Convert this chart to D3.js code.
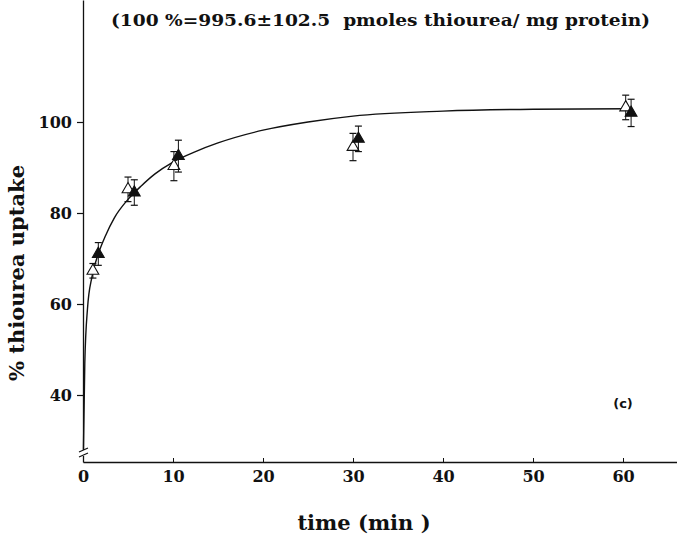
<!DOCTYPE html>
<html>
<head>
<meta charset="utf-8">
<script src="https://cdn.jsdelivr.net/npm/d3@7"></script>
<style>
  body { margin: 0; background: #fff; }
  svg text { fill: #111; white-space: pre; }
</style>
</head>
<body>
<svg id="chart" width="677" height="537"></svg>
<script>
// values
const openTime = [1.1, 5.0, 10.1, 30.0, 60.3];
const openUptake = [67.3, 85.2, 90.3, 94.5, 103.2];
const openErr = [1.6, 2.7, 3.2, 3.0, 2.7];

const filledTime = [1.7, 5.7, 10.6, 30.6, 60.9];
const filledUptake = [71.0, 84.5, 92.5, 96.3, 102.0];
const filledErr = [2.5, 2.8, 3.5, 2.8, 3.0];

// fitted curve, sampled by eye
const fitTime = [0.05, 0.2, 0.5, 1, 1.7, 2.5, 3.5, 5, 6.5, 8, 10, 12.5, 15, 20, 25, 30, 40, 50, 60.5];
const fitUptake = [28, 47, 59, 66, 71, 75, 79, 83, 86, 88.6, 91.2, 93.5, 95.4, 98.2, 100, 101.3, 102.4, 102.8, 102.9];

const xTicks = [0, 10, 20, 30, 40, 50, 60];
const yTicks = [40, 60, 80, 100];

const svg = d3.select("#chart");
const ink = "#111";
const serif = "DejaVu Serif, serif";

const x = d3.scaleLinear().domain([0, 66]).range([83, 677]);
const y = d3.scaleLinear().domain([40, 100]).range([395, 122]);
const yBottom = 462;

// x axis
const xAxis = svg.append("g")
    .attr("transform", `translate(0, ${yBottom})`)
    .call(d3.axisBottom(x).tickValues(xTicks).tickSizeInner(-4).tickSizeOuter(0).tickPadding(9))
xAxis.select(".domain").attr("stroke", ink).attr("stroke-width", 1.3)
xAxis.selectAll(".tick line").attr("stroke", ink)
xAxis.selectAll(".tick text")
    .attr("font-family", serif).attr("font-weight", "bold")
    .attr("font-size", 16).attr("fill", ink)

// y axis, drawn down to the x axis line
const yAxis = svg.append("g")
    .attr("transform", "translate(83, 0)")
    .call(d3.axisLeft(y.copy().domain([y.invert(yBottom), y.invert(0)]).range([yBottom, 0]))
        .tickValues(yTicks).tickSizeInner(6).tickSizeOuter(0).tickPadding(5))
yAxis.select(".domain").attr("stroke", ink).attr("stroke-width", 1.3)
yAxis.selectAll(".tick line").attr("stroke", ink).attr("stroke-width", 1.2)
yAxis.selectAll(".tick text")
    .attr("font-family", serif).attr("font-weight", "bold")
    .attr("font-size", 16).attr("fill", ink)

// axis break marks
svg.append("rect").attr("x", 80).attr("y", 450).attr("width", 6).attr("height", 6).attr("fill", "#fff")
;[450, 455].forEach(function(b) {
    svg.append("line")
        .attr("x1", 79).attr("y1", b + 2).attr("x2", 88).attr("y2", b - 2)
        .attr("stroke", ink).attr("stroke-width", 1.1)
})

// fitted curve
const fit = fitTime.map((t, i) => ({t: t, v: fitUptake[i]}))
const line = d3.line().x(d => x(d.t)).y(d => y(d.v)).curve(d3.curveMonotoneX)
svg.append("path").datum(fit)
    .attr("d", line).attr("fill", "none").attr("stroke", ink).attr("stroke-width", 1.4)

// points with error bars
function drawSeries(times, vals, errs, filled) {
    const pts = times.map((t, i) => ({t: t, v: vals[i], e: errs[i]}))
    const g = svg.append("g")
    const bars = g.selectAll(".bar").data(pts).enter().append("g")
    bars.append("line")
        .attr("x1", d => x(d.t)).attr("x2", d => x(d.t))
        .attr("y1", d => y(d.v - d.e)).attr("y2", d => y(d.v + d.e))
        .attr("stroke", ink).attr("stroke-width", 1)
    ;[-1, 1].forEach(function(s) {
        bars.append("line")
            .attr("x1", d => x(d.t) - 3.5).attr("x2", d => x(d.t) + 3.5)
            .attr("y1", d => y(d.v + s * d.e)).attr("y2", d => y(d.v + s * d.e))
            .attr("stroke", ink).attr("stroke-width", 1.2)
    })
    g.selectAll(".pt").data(pts).enter().append("path")
        .attr("transform", d => `translate(${x(d.t)}, ${y(d.v)})`)
        .attr("d", d3.symbol(d3.symbolTriangle, 60))
        .attr("fill", filled ? ink : "#fff")
        .attr("stroke", ink).attr("stroke-width", 1.1)
}
drawSeries(openTime, openUptake, openErr, false)
drawSeries(filledTime, filledUptake, filledErr, true)

// labels
svg.append("text")
    .attr("x", 111).attr("y", 26)
    .attr("textLength", 539).attr("lengthAdjust", "spacingAndGlyphs")
    .attr("font-family", serif).attr("font-weight", "bold").attr("font-size", 17)
    .text("(100 %=995.6±102.5  pmoles thiourea/ mg protein)")

svg.append("text")
    .attr("x", 364).attr("y", 530).attr("text-anchor", "middle")
    .attr("font-family", serif).attr("font-weight", "bold").attr("font-size", 21)
    .text("time (min )")

svg.append("text")
    .attr("transform", "translate(24, 273) rotate(-90)").attr("text-anchor", "middle")
    .attr("font-family", serif).attr("font-weight", "bold").attr("font-size", 21)
    .text("% thiourea uptake")

svg.append("text")
    .attr("x", 623).attr("y", 408).attr("text-anchor", "middle")
    .attr("font-family", "DejaVu Sans, sans-serif").attr("font-weight", "bold").attr("font-size", 13)
    .text("(c)")
</script>
</body>
</html>
